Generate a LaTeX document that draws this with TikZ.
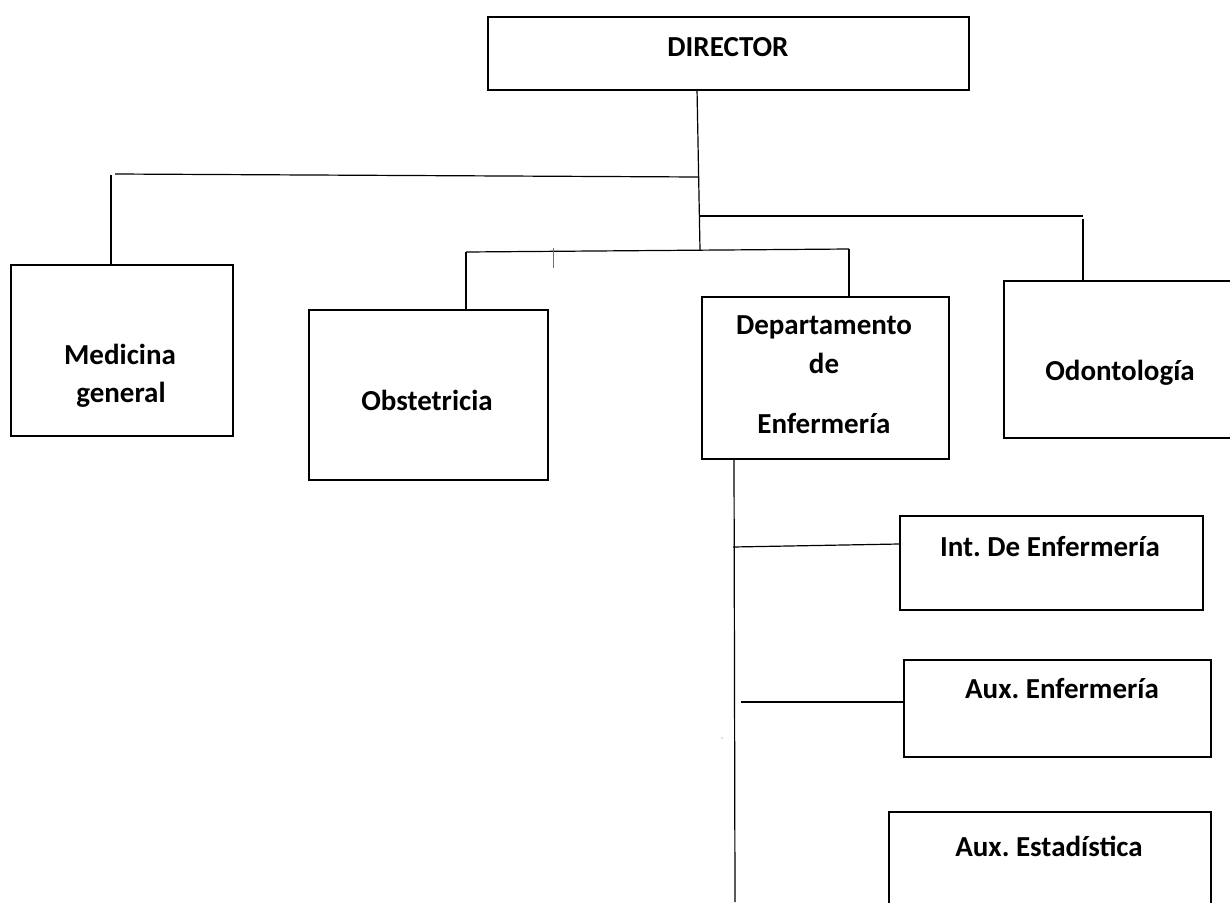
\documentclass[tikz,border=0pt]{standalone}
\usepackage{fontspec}
\setmainfont{Carlito}
\definecolor{tickblue}{RGB}{68,114,196}
\frenchspacing
\begin{document}
\begin{tikzpicture}[x=1pt,y=-1pt,
  box/.style={draw, line width=1.8pt, inner sep=0pt, anchor=north west},
  lbl/.style={anchor=base, inner sep=0pt, font=\fontsize{29}{35}\selectfont\bfseries},
  conn/.style={line width=1.2pt},
  tick/.style={line width=0.9pt, draw=tickblue}]
\clip (0,0) rectangle (1230,902);
\fill[white] (0,0) rectangle (1230,902);

% boxes
\node[box, minimum width=481pt, minimum height=73pt] (dir) at (487,16) {};
\node[box, minimum width=222pt, minimum height=171pt] (med) at (10,264) {};
\node[box, minimum width=239pt, minimum height=170pt] (obs) at (308,309) {};
\node[box, minimum width=247pt, minimum height=162pt] (dep) at (701,296) {};
\node[box, minimum width=240pt, minimum height=157pt] (odo) at (1003,280) {};
\node[box, minimum width=303pt, minimum height=94pt] (int) at (899,515) {};
\node[box, minimum width=307pt, minimum height=97pt] (aux) at (903,659) {};
\node[box, minimum width=322pt, minimum height=120pt] (est) at (888,811) {};

% labels
\node[lbl] (tdir) at (728,56) {DIRECTOR};
\node[lbl] (tmed1) at (120,364) {Medicina};
\node[lbl] (tmed2) at (121,402) {general};
\node[lbl] (tobs) at (427,410) {Obstetricia};
\node[lbl] (tdep1) at (824,334) {Departamento};
\node[lbl] (tdep2) at (824,373) {de};
\node[lbl] (tdep3) at (824,433) {Enfermería};
\node[lbl] (todo) at (1120,380) {Odontología};
\node[lbl] (tint) at (1050,556) {Int. De Enfermería};
\node[lbl] (taux) at (1062,698) {Aux. Enfermería};
\node[lbl] (test) at (1049,856) {Aux. Estadística};

% junction coordinates
\coordinate (t0) at (697,89);
\coordinate (tl) at (699,177);
\coordinate (tr) at (700,216);
\coordinate (tm) at (700,250);
\coordinate (jl) at (115,174);
\coordinate (jlv) at (111,175);
\coordinate (jr) at (1083,216);
\coordinate (jrv) at (1083,219);
\coordinate (jo) at (466,252);
\coordinate (jd) at (849,249);
\coordinate (d0) at (734,458);
\coordinate (d1) at (735,902);
\coordinate (ji) at (733,547);
\coordinate (jie) at (899,544);
\coordinate (ja) at (741,702);
\coordinate (bt0) at (553,248);
\coordinate (bt1) at (553,268);
\coordinate (bdot) at (722,738);

% connectors
\draw[conn] (t0) -- (tm);
\draw[conn] (tl) -- (jl);
\draw[conn] (jlv) -- (jlv |- med.north);
\draw[conn] (tr) -- (jr);
\draw[conn] (jrv) -- (jrv |- odo.north);
\draw[conn] (jo) -- (jd);
\draw[conn] (jo) -- (jo |- obs.north);
\draw[conn] (jd) -- (jd |- dep.north);
\draw[conn] (d0) -- (d1);
\draw[conn] (ji) -- (jie);
\draw[conn] (ja) -- (aux.west |- ja);
\draw[tick] (bt0) -- (bt1);
\fill[tickblue] (bdot) circle (0.7pt);
\end{tikzpicture}
\end{document}
